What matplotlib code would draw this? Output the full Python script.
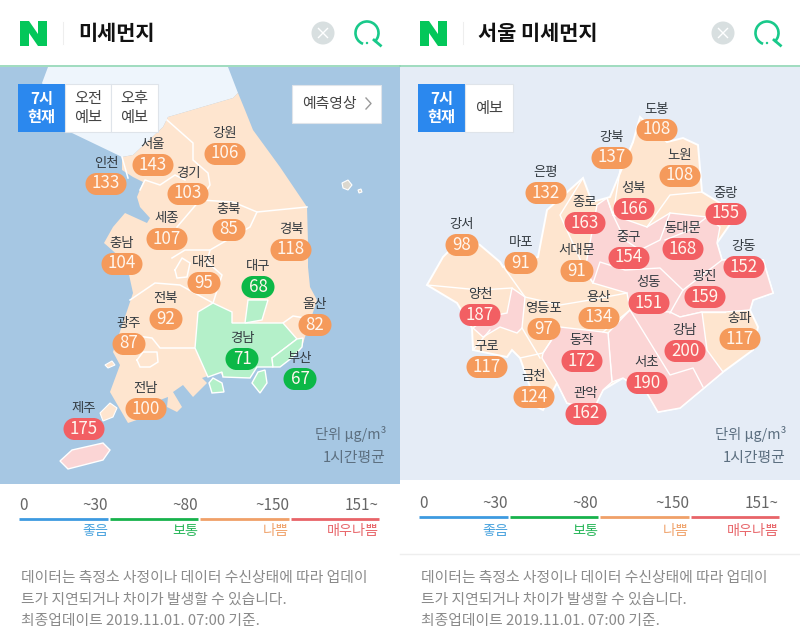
import matplotlib
matplotlib.use("Agg")
import matplotlib.pyplot as plt
from matplotlib.patches import Polygon, Rectangle, Circle, Arc

plt.rcParams['font.family'] = ['Noto Sans CJK KR', 'DejaVu Sans']

# province readings
prov_names = ['강원', '서울', '인천', '경기', '세종', '충북', '경북', '충남', '대전',
              '대구', '전북', '울산', '광주', '경남', '부산', '전남', '제주']
prov_values = [106, 143, 133, 103, 107, 85, 118, 104, 95, 68, 92, 82, 87, 71, 67, 100, 175]
prov_x = [225, 153, 106, 188, 167, 229, 291, 122, 204, 258, 166, 315, 129, 242, 300, 146, 84]
prov_y = [154, 165, 184, 194, 239, 230, 250, 264, 283, 287, 319, 325, 344, 359, 379, 409, 429]

# seoul district readings
gu_names = ['도봉', '강북', '노원', '은평', '성북', '종로', '중랑', '동대문', '강서', '중구',
            '마포', '서대문', '강동', '광진', '성동', '양천', '영등포', '용산', '송파', '구로',
            '동작', '강남', '서초', '금천', '관악']
gu_values = [108, 137, 108, 132, 166, 163, 155, 168, 98, 154, 91, 91, 152, 159, 151, 187, 97,
             134, 117, 117, 172, 200, 190, 124, 162]
gu_x = [657, 612, 680, 546, 634, 585, 726, 683, 462, 629, 521, 577, 744, 705, 649, 480, 544,
        599, 740, 487, 582, 685, 647, 534, 586]
gu_y = [130, 158, 176, 193, 209, 223, 214, 249, 245, 258, 263, 271, 267, 297, 303, 315, 329,
        318, 339, 367, 361, 351, 383, 397, 414]

# legend
scale_ticks = ['~30', '~80', '~150', '151~']
scale_labels = ['좋음', '보통', '나쁨', '매우나쁨']
scale_colors = ['#3d9ae0', '#17b24c', '#f0a068', '#e86468']
scale_text_colors = ['#4aa3de', '#2bb85c', '#f0a56f', '#e8686c']

footer_lines = ['데이터는 측정소 사정이나 데이터 수신상태에 따라 업데이',
                '트가 지연되거나 차이가 발생할 수 있습니다.',
                '최종업데이트 2019.11.01. 07:00 기준.']

# map outlines, in picture pixels
north_land = [(48, 67), (228, 67), (238, 93), (233, 98), (168, 117), (163, 127), (133, 155),
              (122, 157), (72, 133), (42, 83)]
south_land = [(238, 93), (245, 110), (253, 130), (280, 167), (307, 207), (308, 243), (308, 267),
              (310, 287), (317, 300), (305, 337), (302, 347), (293, 357), (280, 367), (257, 367),
              (250, 378), (223, 377), (220, 372), (202, 378), (207, 383), (193, 397), (183, 385),
              (173, 392), (182, 407), (177, 412), (167, 407), (168, 397), (160, 400), (157, 413),
              (128, 423), (110, 392), (120, 365), (113, 352), (128, 308), (133, 293), (128, 270),
              (125, 262), (112, 250), (104, 243), (113, 227), (125, 213), (147, 223), (150, 218),
              (140, 207), (137, 197), (143, 182), (133, 177), (122, 170), (122, 157), (133, 155),
              (163, 127), (168, 117), (233, 98)]
gyeongnam = [(213, 303), (232, 312), (232, 323), (283, 323), (297, 339), (272, 358), (273, 367),
             (257, 367), (250, 378), (223, 377), (222, 372), (208, 377), (195, 348), (198, 312)]
busan = [(297, 339), (303, 338), (302, 347), (293, 357), (280, 367), (273, 367), (272, 358)]
daegu = [(248, 300), (268, 300), (262, 320), (245, 323)]
geoje = [(258, 372), (265, 370), (267, 383), (260, 393), (252, 383)]
namhae = [(213, 378), (222, 383), (224, 392), (212, 393), (209, 383)]
jeju = [(60, 461), (72, 450), (103, 443), (110, 450), (103, 460), (68, 469)]
land_islands = [[(105, 365), (112, 361), (115, 365), (108, 368)],
                [(100, 413), (110, 403), (117, 408), (113, 417), (103, 421)],
                [(342, 183), (348, 180), (352, 185), (348, 190), (343, 188)],
                [(358, 190), (361, 189), (362, 192), (359, 193)]]
prov_borders = [[(167, 120), (193, 143), (193, 160), (208, 173), (210, 185), (200, 200), (177, 227)],
                [(200, 200), (233, 202), (257, 212), (307, 207)],
                [(257, 212), (250, 227), (210, 250), (207, 262), (222, 275), (213, 303)],
                [(198, 348), (160, 348), (152, 338), (130, 335)],
                [(213, 303), (180, 285), (155, 283), (130, 300)],
                [(175, 270), (182, 258), (190, 263), (187, 277), (177, 278), (175, 270)],
                [(172, 258), (185, 250), (210, 250)],
                [(140, 190), (145, 180), (160, 185), (175, 175), (185, 180)],
                [(283, 323), (293, 316), (305, 318)],
                [(137, 360), (143, 352), (157, 352), (158, 362), (150, 367), (140, 367), (137, 360)],
                [(122, 157), (128, 178)]]

seoul_land = [(583, 178), (592, 202), (610, 197), (633, 142), (640, 117), (667, 142), (683, 138),
              (698, 145), (702, 192), (720, 203), (733, 220), (717, 243), (722, 260), (763, 260),
              (773, 293), (753, 300), (750, 310), (758, 327), (753, 350), (723, 372), (680, 408),
              (658, 412), (647, 393), (623, 378), (603, 390), (593, 410), (567, 403), (557, 383),
              (543, 410), (537, 407), (520, 358), (512, 350), (507, 357), (473, 350), (472, 328),
              (457, 303), (427, 285), (443, 257), (463, 237), (480, 245), (500, 262), (503, 267),
              (538, 257), (547, 210)]
seoul_bad = [[(597, 205), (607, 198), (613, 215), (647, 227), (670, 213), (707, 217), (720, 227),
              (717, 243), (722, 260), (763, 260), (773, 293), (753, 300), (750, 310), (725, 312),
              (702, 312), (680, 317), (670, 313), (630, 310), (627, 293), (593, 283), (585, 270)],
             [(630, 310), (670, 312), (680, 317), (702, 312), (707, 350), (723, 372), (680, 408),
              (658, 412), (647, 393), (623, 378), (612, 382), (608, 333)],
             [(560, 327), (603, 332), (608, 333), (612, 382), (603, 390), (593, 410), (567, 403),
              (557, 383), (542, 358), (543, 353)],
             [(512, 288), (525, 297), (522, 328), (517, 333), (500, 327), (483, 337), (473, 328),
              (487, 317), (507, 313)]]
seoul_borders = [[(583, 178), (560, 215), (585, 270), (593, 283)],
                 [(500, 262), (525, 297), (560, 305), (590, 300), (627, 293)],
                 [(427, 285), (480, 290), (512, 288)],
                 [(522, 328), (540, 358)],
                 [(473, 350), (490, 330)],
                 [(520, 358), (543, 353), (560, 327)],
                 [(603, 332), (630, 310)],
                 [(607, 198), (613, 215), (620, 170), (633, 142)],
                 [(647, 227), (670, 195), (702, 192)],
                 [(670, 213), (660, 240), (640, 250), (625, 240), (613, 215)],
                 [(707, 217), (690, 230), (665, 240)],
                 [(683, 290), (670, 313)],
                 [(683, 290), (722, 260)],
                 [(702, 312), (725, 312)],
                 [(630, 310), (670, 375), (693, 368), (703, 387)],
                 [(593, 283), (600, 262), (625, 270), (660, 268), (683, 290)]]

SEA = '#a6c7e3'
SEOUL_BG = '#e5ecf6'
NORTH = '#eef5fc'
LAND = '#fee5cf'
GOOD = '#b4f0c9'
BAD = '#fbd5d5'
NAVER = '#03c75a'
ORANGE = '#f59a5b'
RED = '#f25f63'
GREEN = '#0cb847'

fig = plt.figure(figsize=(8, 6.36), dpi=100)
ax = fig.add_axes([0, 0, 1, 1])
ax.set_xlim(0, 800)
ax.set_ylim(636, 0)
ax.axis('off')


def shape(pts, color, edge='white', lw=1.2, z=2):
    ax.add_patch(Polygon(pts, closed=True, facecolor=color, edgecolor=edge, linewidth=lw, zorder=z))


def pill(x, y, value, name):
    if value > 150:
        c = RED
    elif value > 80:
        c = ORANGE
    else:
        c = GREEN
    w = 41 if value >= 100 else 33
    r = 11
    ax.add_patch(Rectangle((x - w / 2 + r, y - r), w - 2 * r, 2 * r, facecolor=c, edgecolor='none', zorder=5))
    ax.add_patch(Circle((x - w / 2 + r, y), r, facecolor=c, edgecolor='none', zorder=5))
    ax.add_patch(Circle((x + w / 2 - r, y), r, facecolor=c, edgecolor='none', zorder=5))
    ax.text(x, y - 0.5, str(value), color='#fff6ee', fontsize=12.2, ha='center', va='center', zorder=6)
    ax.text(x, y - 21, name, color='#333a40', fontsize=9.6, ha='center', va='center', zorder=6)


def header(x0, title):
    ax.add_patch(Polygon([(x0 + 20, 46), (x0 + 20, 21), (x0 + 29, 21), (x0 + 38, 34), (x0 + 38, 21), (x0 + 47, 21),
                          (x0 + 47, 46), (x0 + 38, 46), (x0 + 29, 33), (x0 + 29, 46)], facecolor=NAVER, zorder=3))
    ax.plot([x0 + 63, x0 + 63], [22, 44], color='#eeeeee', lw=0.8, zorder=3)
    ax.text(x0 + 78, 33, title, fontsize=15, fontweight='bold', color='#111111', va='center', zorder=3)
    ax.add_patch(Circle((x0 + 323, 33), 11.5, facecolor='#d8dfe0', edgecolor='none', zorder=3))
    ax.plot([x0 + 318.5, x0 + 327.5], [28.5, 37.5], color='white', lw=1.0, zorder=4)
    ax.plot([x0 + 318.5, x0 + 327.5], [37.5, 28.5], color='white', lw=1.0, zorder=4)
    ax.add_patch(Arc((x0 + 367, 33), 23, 23, theta1=110, theta2=50, edgecolor='#19c98a', lw=1.9, zorder=3))
    ax.plot([x0 + 374, x0 + 380.5], [40, 45.5], color='#19c98a', lw=2.0, zorder=3)
    ax.add_patch(Circle((x0 + 367, 43), 1.2, facecolor='#19c98a', edgecolor='none', zorder=3))
    ax.plot([x0, x0 + 400], [66, 66], color='#8fd6b4', lw=1.2, zorder=3)


def buttons(x0, words, widths):
    ax.add_patch(Rectangle((x0 + 18, 84), 47, 48, facecolor='#2b88ee', edgecolor='none', zorder=7))
    ax.text(x0 + 41.5, 108, '7시\n현재', color='white', fontsize=11, fontweight='bold', ha='center', va='center',
            linespacing=1.1, zorder=8)
    left = x0 + 65
    for word, w in zip(words, widths):
        ax.add_patch(Rectangle((left, 84), w, 48, facecolor='white', edgecolor='#dfe4ea', lw=0.8, zorder=7))
        ax.text(left + w / 2, 108, word, color='#444444', fontsize=11, ha='center', va='center',
                linespacing=1.1, zorder=8)
        left += w


def unit_text(x0, y0):
    ax.text(x0 + 386, y0, '단위 µg/m³', color='#5c6f80', fontsize=10.3, ha='right', va='center', zorder=6)
    ax.text(x0 + 385, y0 + 24, '1시간평균', color='#5c6f80', fontsize=10.7, ha='right', va='center', zorder=6)


def scale_bar(x0, y_tick, y_line, y_lab):
    ax.text(x0 + 19, y_tick, '0', color='#666666', fontsize=11, ha='left', va='center')
    rights = [108, 198, 289, 379]
    lefts = [19, 110, 200, 291]
    for i in range(4):
        ax.plot([x0 + lefts[i], x0 + rights[i]], [y_line, y_line], color=scale_colors[i], lw=2, solid_capstyle='butt')
        ax.text(x0 + rights[i], y_tick, scale_ticks[i], color='#666666', fontsize=11, ha='right', va='center')
        ax.text(x0 + rights[i], y_lab, scale_labels[i], color=scale_text_colors[i], fontsize=10.2, ha='right', va='center')


def footer(x0):
    for line, y in zip(footer_lines, [578, 600, 621]):
        ax.text(x0 + 21, y, line, color='#8a8a8a', fontsize=10.65, ha='left', va='center')


# left panel
ax.add_patch(Rectangle((0, 67), 400, 417, facecolor=SEA, edgecolor='none', zorder=1))
shape(north_land, NORTH, edge='none', lw=0)
shape(south_land, LAND, edge='none', lw=0)
for isl in land_islands[:2]:
    shape(isl, LAND, lw=0.8)
for isl in land_islands[2:]:
    shape(isl, '#dcd8cf', lw=0.8)
for line in prov_borders:
    ax.plot([p[0] for p in line], [p[1] for p in line], color='white', lw=1.1, zorder=3)
for poly in [gyeongnam, busan, daegu, geoje, namhae]:
    shape(poly, GOOD, lw=1.0, z=3)
shape(jeju, BAD, lw=1.0)
for n, v, x, y in zip(prov_names, prov_values, prov_x, prov_y):
    pill(x, y, v, n)
buttons(0, ['오전\n예보', '오후\n예보'], [46, 47])
ax.add_patch(Rectangle((292, 85), 89, 38, facecolor='white', edgecolor='#dfe4ea', lw=0.8, zorder=7))
ax.text(329, 104, '예측영상', color='#444444', fontsize=10.7, ha='center', va='center', zorder=8)
ax.plot([366, 371, 366], [98, 103.5, 109], color='#999999', lw=1, zorder=8)
unit_text(0, 434)
header(0, '미세먼지')
scale_bar(0, 505, 518.5, 531)
footer(0)

# right panel
ax.add_patch(Rectangle((400, 67), 400, 413, facecolor=SEOUL_BG, edgecolor='none', zorder=1))
shape(seoul_land, LAND, lw=1.4)
for poly in seoul_bad:
    shape(poly, BAD, lw=1.0, z=3)
for line in seoul_borders:
    ax.plot([p[0] for p in line], [p[1] for p in line], color='white', lw=1.0, zorder=4)
for n, v, x, y in zip(gu_names, gu_values, gu_x, gu_y):
    pill(x, y, v, n)
buttons(400, ['예보'], [48])
unit_text(400, 434)
header(400, '서울 미세먼지')
scale_bar(400, 504, 517, 531)
ax.plot([400, 800], [554, 554], color='#eeeeee', lw=1)
footer(400)

fig.savefig('out.png', dpi=100)
